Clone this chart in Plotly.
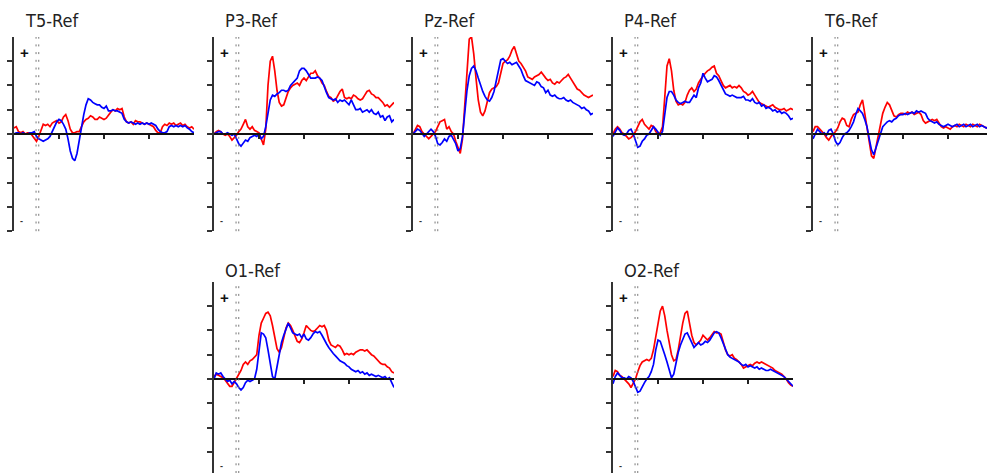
import plotly.graph_objects as go

# ---------------- data (time in ms, amplitude in tick units) ----------------
TIME = list(range(-100, 701, 10))

T5_RED = [0.25, 0.3, 0.1, 0.05, 0.1, 0.0, 0.05, 0.05, -0.05, -0.2,
          -0.3, -0.1, 0.15, 0.4, 0.35, 0.4, 0.3, 0.45, 0.5, 0.55,
          0.45, 0.5, 0.7, 0.8, 0.55, 0.2, 0.05, 0.05, 0.1, 0.1,
          0.3, 0.5, 0.6, 0.65, 0.75, 0.7, 0.6, 0.6, 0.7, 0.65,
          0.6, 0.65, 0.8, 0.9, 1.0, 0.95, 1.05, 1.0, 1.05, 0.7,
          0.5, 0.45, 0.5, 0.4, 0.55, 0.5, 0.5, 0.45, 0.4, 0.45,
          0.4, 0.35, 0.3, 0.15, 0.05, 0.05, 0.3, 0.4, 0.35, 0.45,
          0.4, 0.45, 0.35, 0.4, 0.45, 0.35, 0.4, 0.3, 0.25, 0.3,
          0.2]
T5_BLUE = [0.0, 0.05, 0.05, 0.0, 0.05, 0.0, 0.0, 0.05, 0.05, 0.1,
           -0.1, -0.2, -0.25, -0.3, -0.25, -0.2, -0.1, 0.1, 0.35, 0.5,
           0.6, 0.55, 0.4, 0.2, -0.2, -0.7, -1.0, -1.1, -0.8, -0.2,
           0.3, 0.8, 1.2, 1.45, 1.4, 1.3, 1.25, 1.2, 1.2, 1.1,
           1.05, 1.15, 0.95, 0.95, 1.0, 0.95, 0.95, 0.9, 0.85, 0.6,
           0.5, 0.45, 0.5, 0.45, 0.4, 0.45, 0.4, 0.45, 0.4, 0.45,
           0.4, 0.45, 0.4, 0.35, 0.2, 0.1, 0.05, 0.05, 0.1, 0.3,
           0.35, 0.3, 0.35, 0.3, 0.35, 0.3, 0.35, 0.25, 0.2, 0.1,
           0.05]

P3_RED = [0.0, 0.1, 0.15, 0.1, 0.0, -0.05, 0.0, -0.1, -0.25, -0.15,
          -0.05, 0.1, 0.2, 0.4, 0.6, 0.3, 0.2, 0.3, 0.15, 0.1,
          0.05, -0.2, -0.45, 0.2, 2.0, 3.0, 3.2, 2.6, 1.8, 1.3,
          1.15, 1.2, 1.5, 1.75, 1.9, 2.0, 2.05, 2.1, 2.0, 2.2,
          2.3, 2.2, 2.35, 2.5, 2.5, 2.6, 2.4, 2.3, 2.1, 2.0,
          1.75, 1.55, 1.5, 1.35, 1.4, 1.6, 1.75, 1.85, 1.5, 1.45,
          1.5, 1.45, 1.6, 1.55, 1.45, 1.4, 1.45, 1.6, 1.75, 1.8,
          1.65, 1.6, 1.5, 1.5, 1.4, 1.3, 1.15, 1.2, 1.1, 1.2,
          1.3]
P3_BLUE = [0.0, 0.05, 0.1, 0.1, 0.0, 0.0, 0.05, 0.0, -0.05, 0.0,
           -0.2, -0.4, -0.5, -0.35, -0.25, -0.3, -0.15, -0.1, -0.05, -0.1,
           0.0, -0.2, -0.1, 0.3, 0.9, 1.4, 1.6, 1.55, 1.65, 1.7,
           1.8, 1.8, 1.75, 1.8, 2.0, 2.1, 2.2, 2.3, 2.6, 2.7,
           2.7, 2.6, 2.45, 2.3, 2.3, 2.3, 2.35, 2.3, 2.2, 1.9,
           1.7, 1.5, 1.45, 1.4, 1.45, 1.3, 1.4, 1.35, 1.4, 1.3,
           1.2, 1.4, 1.2, 1.0, 1.0, 1.05, 0.9, 0.95, 1.0, 0.9,
           1.0, 0.85, 0.8, 0.9, 0.7, 0.75, 0.55, 0.7, 0.75, 0.5,
           0.6]

PZ_RED = [0.0, 0.2, 0.35, 0.3, 0.1, 0.0, -0.1, -0.2, -0.1, 0.0,
          0.1, 0.3, 0.5, 0.55, 0.6, 0.2, 0.3, 0.1, 0.0, -0.3,
          -0.6, -0.8, -0.2, 1.2, 2.8, 3.9, 4.0, 3.3, 2.3, 1.4,
          0.9, 0.75, 0.95, 1.4, 1.7, 1.85, 1.9, 1.95, 2.1, 2.5,
          2.9, 3.0, 3.05, 3.2, 3.45, 3.6, 3.3, 3.0, 2.9, 2.75,
          2.6, 2.35, 2.3, 2.25, 2.35, 2.4, 2.45, 2.55, 2.4, 2.3,
          2.2, 2.25, 2.1, 2.05, 2.15, 2.1, 2.2, 2.3, 2.35, 2.45,
          2.3, 2.15, 1.95, 1.85, 1.8, 1.7, 1.6, 1.55, 1.5, 1.55,
          1.6]
PZ_BLUE = [0.0, 0.1, 0.2, 0.15, 0.0, -0.1, 0.0, 0.1, 0.2, 0.1,
           -0.1, -0.4, -0.45, -0.35, -0.2, -0.3, -0.1, -0.05, -0.2, -0.4,
           -0.7, -0.6, -0.1, 0.9, 1.8, 2.4, 2.7, 2.8, 2.6, 2.3,
           2.0, 1.75, 1.55, 1.4, 1.35, 1.5, 1.75, 2.2, 2.7, 3.05,
           3.1, 3.0, 2.9, 2.95, 2.85, 2.9, 2.95, 2.8, 2.65, 2.4,
           2.2, 2.15, 2.1, 2.05, 2.0, 2.15, 2.1, 1.95, 1.9, 1.7,
           1.8, 1.6, 1.55, 1.6, 1.5, 1.45, 1.45, 1.5, 1.4, 1.35,
           1.4, 1.3, 1.25, 1.2, 1.15, 1.05, 1.1, 1.0, 0.95, 0.8,
           0.85]

P4_RED = [0.0, 0.2, 0.3, 0.2, 0.05, 0.0, -0.1, -0.2, -0.15, -0.05,
          0.1, 0.3, 0.5, 0.6, 0.4, 0.3, 0.2, 0.35, 0.3, 0.1,
          0.0, 0.05, 0.3, 1.5, 2.8, 3.1, 2.6, 1.8, 1.35, 1.2,
          1.25, 1.2, 1.3, 1.6, 1.8, 1.9, 1.75, 1.85, 2.1, 2.25,
          2.4, 2.5, 2.6, 2.65, 2.75, 2.8, 2.5, 2.4, 2.2, 2.0,
          1.9, 1.95, 2.0, 1.9, 1.95, 1.9, 2.0, 1.9, 1.75, 1.7,
          1.6, 1.65, 1.75, 1.6, 1.45, 1.3, 1.25, 1.2, 1.15, 1.1,
          1.15, 1.2, 1.1, 1.05, 1.0, 1.0, 1.05, 0.95, 1.0, 1.05,
          1.0]
P4_BLUE = [-0.1, 0.1, 0.25, 0.15, 0.0, -0.05, 0.0, 0.15, 0.2, 0.0,
           -0.3, -0.55, -0.5, -0.3, -0.2, -0.05, 0.0, 0.15, 0.3, 0.2,
           0.05, -0.05, 0.1, 0.8, 1.5, 1.75, 1.75, 1.6, 1.4, 1.3,
           1.25, 1.3, 1.35, 1.3, 1.3, 1.45, 1.6, 1.5, 1.9, 2.1,
           2.5, 2.3, 2.15, 2.2, 2.25, 2.4, 2.35, 2.2, 2.0, 1.8,
           1.65, 1.6, 1.55, 1.6, 1.55, 1.5, 1.5, 1.5, 1.55, 1.4,
           1.4, 1.35, 1.45, 1.3, 1.25, 1.3, 1.15, 1.2, 1.05, 1.1,
           1.05, 0.95, 1.0, 0.9, 0.95, 0.85, 0.9, 0.85, 0.75, 0.6,
           0.65]

T6_RED = [0.1, 0.3, 0.3, 0.2, 0.1, 0.0, -0.15, -0.25, -0.1, 0.0,
          0.1, 0.25, 0.5, 0.65, 0.6, 0.35, 0.3, 0.6, 0.8, 0.85,
          0.9, 1.2, 1.4, 0.85, 0.2, -0.4, -0.9, -1.0, -0.5, 0.0,
          0.5, 0.85, 1.1, 1.3, 1.2, 1.0, 0.75, 0.7, 0.8, 0.85,
          0.85, 0.8, 0.9, 0.85, 0.9, 0.8, 0.85, 0.9, 0.8, 0.55,
          0.45, 0.5, 0.55, 0.6, 0.55, 0.6, 0.45, 0.3, 0.25, 0.3,
          0.25, 0.2, 0.3, 0.35, 0.3, 0.4, 0.35, 0.3, 0.4, 0.35,
          0.3, 0.4, 0.35, 0.3, 0.4, 0.35, 0.3, 0.25, 0.2, 0.15,
          0.1]
T6_BLUE = [-0.2, 0.0, 0.2, 0.1, 0.0, 0.05, -0.05, 0.15, 0.2, 0.0,
           -0.3, -0.45, -0.35, -0.15, 0.0, 0.05, 0.15, 0.3, 0.5, 0.8,
           1.05, 0.95, 0.85, 0.6, 0.3, -0.2, -0.65, -0.85, -0.55, -0.2,
           0.1, 0.3, 0.4, 0.5, 0.55, 0.5, 0.6, 0.65, 0.75, 0.8,
           0.8, 0.85, 0.8, 0.85, 0.9, 0.85, 0.95, 0.9, 0.95, 0.9,
           0.85, 0.65, 0.55, 0.5, 0.45, 0.5, 0.4, 0.35, 0.3, 0.35,
           0.4, 0.35, 0.3, 0.35, 0.4, 0.3, 0.35, 0.4, 0.3, 0.35,
           0.4, 0.3, 0.35, 0.4, 0.3, 0.35, 0.3, 0.25, 0.3, 0.2,
           0.2]

O1_RED = [0.1, 0.2, 0.15, 0.1, 0.05, -0.05, -0.2, -0.3, -0.3, -0.15,
          0.0, 0.15, 0.35, 0.6, 0.7, 0.6, 0.75, 0.8, 0.9, 1.0,
          1.8, 2.3, 2.5, 2.7, 2.75, 2.6, 2.2, 1.7, 1.25, 1.1,
          1.3, 1.7, 2.1, 2.3, 2.2, 2.0, 1.8, 1.55, 1.5, 1.65,
          1.9, 2.2, 2.1, 2.0, 1.95, 2.0, 2.1, 2.2, 2.15, 2.2,
          2.0, 1.6, 1.4, 1.35, 1.3, 1.4, 1.35, 1.2, 1.0, 1.05,
          1.0, 1.05, 1.0, 1.1, 1.15, 1.2, 1.2, 1.15, 1.2, 1.1,
          1.0, 0.95, 0.85, 0.75, 0.65, 0.6, 0.6, 0.5, 0.45, 0.3,
          0.25]
O1_BLUE = [0.0, 0.25, 0.2, 0.25, 0.1, 0.0, -0.1, -0.05, -0.2, -0.1,
           -0.2, -0.35, -0.45, -0.35, -0.15, -0.05, -0.1, -0.05, 0.0, 0.4,
           1.3, 1.9, 1.85, 1.7, 1.2, 0.6, 0.1, 0.0, 0.5, 1.0,
           1.5, 1.8, 2.1, 2.3, 2.1, 1.9, 1.85, 1.8, 1.85, 1.7,
           1.85, 1.65, 1.6, 1.7, 1.85, 1.95, 1.9, 1.95, 1.8, 1.6,
           1.45, 1.3, 1.15, 1.05, 0.95, 0.85, 0.75, 0.7, 0.65, 0.55,
           0.5, 0.4, 0.35, 0.3, 0.35, 0.25, 0.3, 0.2, 0.25, 0.15,
           0.2, 0.15, 0.1, 0.15, 0.1, 0.05, 0.1, 0.0, 0.05, -0.15,
           -0.35]

O2_RED = [0.1, 0.35, 0.3, 0.15, 0.1, 0.0, -0.1, -0.2, -0.35, -0.2,
          0.0, 0.3, 0.55, 0.7, 0.75, 0.8, 0.75, 0.85, 1.2, 1.8,
          2.3, 2.8, 3.0, 2.6, 2.0, 1.5, 1.0, 0.75, 0.8, 1.2,
          1.8, 2.3, 2.7, 2.8, 2.3, 1.8, 1.5, 1.4, 1.5, 1.6,
          1.8, 1.7, 1.6, 1.7, 1.85, 1.95, 1.9, 1.9, 1.85, 1.5,
          1.2, 1.0, 0.95, 1.0, 0.85, 0.8, 0.7, 0.6, 0.45, 0.5,
          0.55, 0.6, 0.55, 0.65, 0.7, 0.65, 0.7, 0.65, 0.6, 0.55,
          0.5, 0.45, 0.35, 0.3, 0.25, 0.2, 0.1, 0.0, -0.15, -0.25,
          -0.3]
O2_BLUE = [-0.2, 0.1, 0.25, 0.15, 0.05, 0.05, 0.0, 0.1, 0.05, -0.1,
           -0.3, -0.55, -0.5, -0.3, -0.15, 0.0, 0.1, 0.3, 0.6, 1.2,
           1.6, 1.55, 1.3, 1.0, 0.7, 0.35, 0.05, 0.2, 0.7, 1.1,
           1.4, 1.6, 1.85, 1.9, 1.7, 1.5, 1.3, 1.4, 1.5, 1.4,
           1.45, 1.55, 1.5, 1.6, 1.75, 1.9, 1.95, 1.9, 1.7, 1.45,
           1.2, 1.0, 0.9, 0.85, 0.8, 0.75, 0.7, 0.6, 0.55, 0.6,
           0.5, 0.55, 0.5, 0.45, 0.5, 0.4, 0.45, 0.4, 0.35, 0.35,
           0.4, 0.35, 0.3, 0.25, 0.2, 0.15, 0.1, 0.0, -0.1, -0.2,
           -0.3]

TITLES = ["T5-Ref", "P3-Ref", "Pz-Ref", "P4-Ref", "T6-Ref", "O1-Ref", "O2-Ref"]
RED_SERIES = [T5_RED, P3_RED, PZ_RED, P4_RED, T6_RED, O1_RED, O2_RED]
BLUE_SERIES = [T5_BLUE, P3_BLUE, PZ_BLUE, P4_BLUE, T6_BLUE, O1_BLUE, O2_BLUE]
Y_TICKS = [-4, -3, -2, -1, 0, 1, 2, 3, 4]
X_TICKS = [100, 300, 500]

# ---------------- layout geometry (pixels) ----------------
W, H = 987, 473
PANEL_W = 180          # px for 800 ms
T_MIN, T_SPAN = -100, 800
UNIT = 24.3            # px per y unit
AXIS_X = [14, 214, 413, 613, 813, 214, 613]
ROW = [0, 0, 0, 0, 0, 1, 1]
ROW_TOP = [37, 282]
ROW_ZERO = [134, 379]
TITLE_Y = [21, 270]

FONT_TITLE = "DejaVu Sans Condensed, Liberation Sans Narrow, Arial Narrow, sans-serif"

fig = go.Figure()
layout = dict(width=W, height=H, margin=dict(l=0, r=0, t=0, b=0),
              paper_bgcolor="white", plot_bgcolor="white", showlegend=False)
shapes, annotations = [], []

for i in range(7):
    k = i + 1
    xs = "" if k == 1 else str(k)
    ax = AXIS_X[i]
    right = min(ax + PANEL_W, W)
    t_max = T_MIN + (right - ax) / PANEL_W * T_SPAN
    r = ROW[i]
    top, zero = ROW_TOP[r], ROW_ZERO[r]
    bottom = zero + 4 * UNIT
    vis_bottom = min(bottom, H)
    y_lo = -(vis_bottom - zero) / UNIT
    y_hi = (zero - top) / UNIT

    layout[f"xaxis{xs}"] = dict(
        domain=[ax / W, right / W], range=[T_MIN, t_max],
        anchor="free", position=(H - zero) / H,
        showline=True, linecolor="#111", linewidth=1.5,
        ticks="outside", tickvals=X_TICKS, ticklen=4, tickwidth=1.5, tickcolor="#222",
        showticklabels=False, showgrid=False, zeroline=False, fixedrange=True)
    layout[f"yaxis{xs}"] = dict(
        domain=[(H - vis_bottom) / H, (H - top) / H], range=[y_lo, y_hi],
        anchor=f"x{xs}", showline=True, linecolor="#333", linewidth=2,
        ticks="outside", tickvals=Y_TICKS, ticklen=5, tickwidth=2, tickcolor="#333",
        showticklabels=False, showgrid=False, zeroline=False, fixedrange=True)

    # stimulus-onset double dotted marker
    for tx in (-2, 10):
        shapes.append(dict(type="line", xref=f"x{xs}", yref=f"y{xs} domain",
                           x0=tx, x1=tx, y0=0, y1=1,
                           line=dict(color="#777", width=1, dash="2px,5.7px")))

    fig.add_trace(go.Scatter(x=TIME, y=RED_SERIES[i], mode="lines",
                             line=dict(color="#ff0000", width=1.7),
                             xaxis=f"x{xs}", yaxis=f"y{xs}", hoverinfo="skip"))
    fig.add_trace(go.Scatter(x=TIME, y=BLUE_SERIES[i], mode="lines",
                             line=dict(color="#0000ff", width=1.7),
                             xaxis=f"x{xs}", yaxis=f"y{xs}", hoverinfo="skip"))

    annotations.append(dict(text=TITLES[i], xref="paper", yref="paper",
                            x=(ax + 9) / W, y=(H - TITLE_Y[r]) / H,
                            xanchor="left", yanchor="middle", showarrow=False,
                            font=dict(family=FONT_TITLE, size=18, color="#222")))
    annotations.append(dict(text="<b>+</b>", xref=f"x{xs}", yref=f"y{xs}",
                            x=-55, y=3.36, xanchor="center", yanchor="middle",
                            showarrow=False,
                            font=dict(family="Liberation Sans, Arial", size=15, color="#111")))
    annotations.append(dict(text="<b>-</b>", xref=f"x{xs}", yref=f"y{xs}",
                            x=-68, y=-3.6, xanchor="center", yanchor="middle",
                            showarrow=False,
                            font=dict(family="Liberation Sans, Arial", size=9, color="#333")))

layout["shapes"] = shapes
layout["annotations"] = annotations
fig.update_layout(**layout)
fig.write_html("out.html", config={"displayModeBar": False})
